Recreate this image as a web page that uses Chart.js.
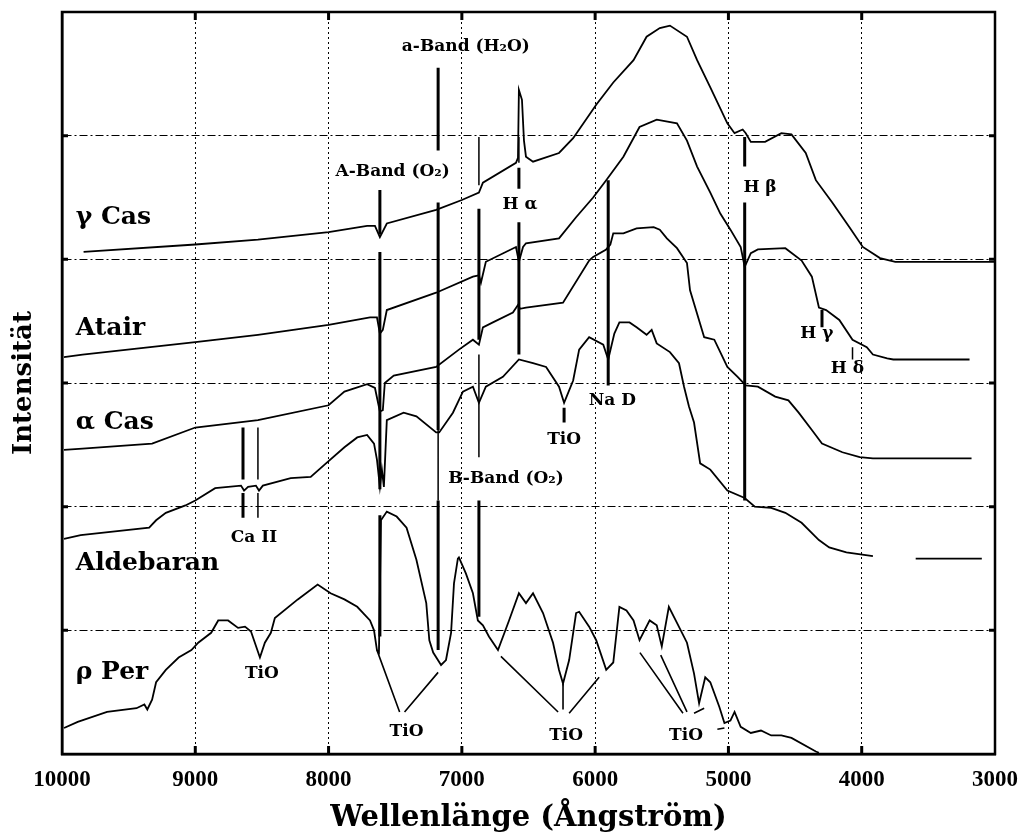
<!DOCTYPE html>
<html><head><meta charset="utf-8">
<script src="https://cdn.jsdelivr.net/npm/chart.js@4.4.0/dist/chart.umd.min.js"></script>
<style>html,body{margin:0;padding:0;background:#fff;} #wrap{width:1034px;height:836px;position:relative;}</style>
</head><body><div id="wrap"><canvas id="c"></canvas></div>
<script>
// ---- x tick values (Angstrom) ----
const xTicks = [10000, 9000, 8000, 7000, 6000, 5000, 4000, 3000];

// ---- spectra: wavelength (Å) and intensity (offset units) ----
const gammaCasWl = [9838, 9000, 8530, 8000, 7711, 7652, 7615, 7563, 7193, 7000, 6872, 6842, 6594, 6579, 6572, 6549, 6534, 6519, 6466, 6271, 6165, 5992, 5864, 5712, 5614, 5515, 5439, 5311, 5235, 5136, 5008, 4954, 4893, 4870, 4832, 4725, 4603, 4527, 4420, 4344, 4221, 4092, 3992, 3863, 3748, 3000];
const gammaCasI  = [4.06, 4.12, 4.16, 4.22, 4.27, 4.27, 4.18, 4.29, 4.40, 4.48, 4.54, 4.62, 4.78, 4.82, 5.37, 5.29, 4.96, 4.83, 4.79, 4.86, 4.98, 5.25, 5.43, 5.61, 5.80, 5.87, 5.89, 5.80, 5.61, 5.39, 5.10, 5.02, 5.05, 5.02, 4.95, 4.95, 5.02, 5.01, 4.86, 4.64, 4.46, 4.26, 4.10, 4.01, 3.98, 3.98];

const atairWl = [9985, 9846, 9000, 8530, 8000, 7689, 7637, 7615, 7593, 7563, 7193, 6917, 6872, 6857, 6820, 6594, 6572, 6541, 6519, 6271, 6143, 6015, 5917, 5788, 5667, 5538, 5386, 5311, 5235, 5136, 5061, 4985, 4908, 4878, 4832, 4779, 4573, 4451, 4374, 4321, 4267, 4168, 4069, 3962, 3916, 3809, 3763, 3191];
const atairI  = [3.21, 3.23, 3.33, 3.39, 3.47, 3.53, 3.53, 3.40, 3.43, 3.59, 3.73, 3.86, 3.87, 3.81, 3.98, 4.10, 3.98, 4.10, 4.13, 4.17, 4.34, 4.50, 4.64, 4.83, 5.07, 5.13, 5.10, 4.96, 4.75, 4.54, 4.37, 4.24, 4.10, 3.94, 4.05, 4.08, 4.09, 3.99, 3.86, 3.61, 3.59, 3.51, 3.35, 3.29, 3.23, 3.20, 3.19, 3.19];

const alphaCasWl = [9985, 9846, 9324, 9000, 8530, 8000, 7881, 7711, 7652, 7615, 7593, 7578, 7511, 7193, 7022, 6917, 6872, 6842, 6767, 6617, 6579, 6564, 6519, 6241, 6045, 6015, 5917, 5886, 5864, 5788, 5689, 5561, 5515, 5462, 5386, 5311, 5288, 5182, 5106, 5008, 4931, 4870, 4779, 4649, 4550, 4473, 4374, 4298, 4145, 4015, 3916, 3176];
const alphaCasI  = [2.46, 2.47, 2.51, 2.64, 2.70, 2.82, 2.93, 2.99, 2.96, 2.77, 2.78, 3.00, 3.06, 3.13, 3.27, 3.35, 3.31, 3.45, 3.49, 3.57, 3.63, 3.60, 3.61, 3.65, 3.99, 4.02, 4.08, 4.12, 4.21, 4.21, 4.25, 4.26, 4.24, 4.17, 4.09, 3.97, 3.75, 3.37, 3.35, 3.13, 3.05, 2.98, 2.97, 2.89, 2.86, 2.76, 2.62, 2.51, 2.44, 2.40, 2.39, 2.39];

const aldebaranWl = [9985, 9860, 9346, 9294, 9221, 9074, 9000, 8851, 8657, 8634, 8604, 8545, 8522, 8493, 8284, 8134, 8030, 7881, 7785, 7711, 7659, 7637, 7615, 7600, 7585, 7563, 7437, 7341, 7193, 7170, 7067, 6992, 6917, 6872, 6820, 6692, 6572, 6466, 6368, 6271, 6233, 6165, 6120, 6045, 5939, 5902, 5856, 5818, 5742, 5689, 5614, 5576, 5538, 5439, 5371, 5333, 5296, 5258, 5212, 5136, 5008, 4878, 4802, 4679, 4573, 4451, 4321, 4244, 4115, 3916, 3750, 3595, 3099];
const aldebaranI  = [1.74, 1.77, 1.83, 1.89, 1.95, 2.01, 2.05, 2.15, 2.17, 2.13, 2.16, 2.17, 2.13, 2.17, 2.23, 2.24, 2.34, 2.48, 2.56, 2.58, 2.51, 2.38, 2.16, 2.30, 2.16, 2.70, 2.76, 2.73, 2.60, 2.60, 2.76, 2.93, 2.97, 2.84, 2.97, 3.05, 3.19, 3.16, 3.13, 2.97, 2.84, 3.02, 3.27, 3.37, 3.31, 3.19, 3.40, 3.49, 3.49, 3.45, 3.39, 3.43, 3.32, 3.25, 3.16, 2.97, 2.81, 2.68, 2.35, 2.30, 2.13, 2.07, 2.00, 1.99, 1.95, 1.87, 1.73, 1.67, 1.63, 1.60, null, 1.58, 1.58];

const rhoPerWl = [9985, 9882, 9662, 9441, 9382, 9360, 9324, 9294, 9221, 9125, 9029, 8978, 8881, 8828, 8754, 8679, 8627, 8582, 8515, 8478, 8433, 8403, 8231, 8082, 7985, 7881, 7785, 7689, 7659, 7637, 7622, 7607, 7563, 7489, 7415, 7341, 7267, 7244, 7215, 7156, 7119, 7081, 7059, 7030, 7022, 6970, 6917, 6880, 6842, 6797, 6729, 6646, 6572, 6519, 6466, 6391, 6316, 6271, 6241, 6195, 6143, 6120, 6045, 5992, 5917, 5864, 5818, 5765, 5712, 5667, 5591, 5538, 5500, 5447, 5386, 5311, 5258, 5220, 5174, 5136, 5068, 5030, 4985, 4954, 4908, 4832, 4756, 4679, 4603, 4527, 4344, 4321];
const rhoPerI  = [0.21, 0.26, 0.34, 0.37, 0.40, 0.36, 0.44, 0.58, 0.68, 0.78, 0.84, 0.90, 0.98, 1.08, 1.08, 1.02, 1.03, 0.99, 0.78, 0.90, 0.98, 1.10, 1.25, 1.37, 1.30, 1.25, 1.19, 1.08, 1.00, 0.84, 0.82, 1.89, 1.96, 1.92, 1.83, 1.57, 1.22, 0.92, 0.82, 0.72, 0.76, 0.98, 1.38, 1.58, 1.59, 1.46, 1.30, 1.08, 1.04, 0.95, 0.84, 1.08, 1.30, 1.22, 1.30, 1.14, 0.90, 0.68, 0.57, 0.76, 1.14, 1.15, 1.03, 0.92, 0.68, 0.74, 1.19, 1.16, 1.08, 0.92, 1.08, 1.04, 0.87, 1.19, 1.06, 0.90, 0.65, 0.41, 0.62, 0.58, 0.38, 0.25, 0.27, 0.34, 0.22, 0.17, 0.19, 0.15, 0.15, 0.13, 0.02, 0.01];

// ---- line identification markers: [wavelength, upper intensity, lower intensity] ----
const heavyMarks = [
  [7178, 5.55, 4.88], [7178, 4.46, 2.62], [7178, 2.05, 0.84],
  [7615, 4.56, 4.20], [7615, 4.06, 2.14], [7615, 1.93, 0.95],
  [6872, 4.41, 3.35], [6872, 2.05, 1.11],
  [6572, 4.74, 4.57], [6572, 4.30, 3.23],
  [5902, 4.64, 2.98],
  [4878, 4.99, 4.75], [4878, 4.46, 2.05],
  [4298, 3.59, 3.45],
  [8642, 2.64, 2.22], [8642, 2.11, 1.91],
  [6233, 2.80, 2.68]
];
const lightMarks = [
  [7178, 2.62, 2.05],
  [6872, 4.99, 4.60], [6872, 3.23, 2.40],
  [6572, 4.99, 4.78],
  [4069, 3.29, 3.19],
  [8530, 2.64, 2.22], [8530, 2.11, 1.91]
];
// ---- TiO leader lines: [wl1, I1, wl2, I2] ----
const tioLeaders = [
  [7637, 0.84, 7467, 0.34], [7430, 0.34, 7178, 0.66],
  [6707, 0.79, 6278, 0.34], [6241, 0.57, 6241, 0.36], [6195, 0.33, 5970, 0.62],
  [5664, 0.82, 5341, 0.33], [5508, 0.80, 5311, 0.34], [5258, 0.33, 5182, 0.37], [5083, 0.20, 5030, 0.21]
];

// ---- text annotations ----
const starNames = ['γ Cas', 'Atair', 'α Cas', 'Aldebaran', 'ρ Per'];
const starNameWl = [9897, 9897, 9897, 9897, 9897];
const starNameI = [4.34, 3.44, 2.68, 1.54, 0.66];

const lineLabels = ['a-Band (H₂O)', 'A-Band (O₂)', 'H α', 'H β', 'Na D', 'TiO', 'B-Band (O₂)', 'Ca II', 'H γ', 'H δ', 'TiO', 'TiO', 'TiO', 'TiO'];
const lineLabelWl = [6970, 7519, 6564, 4763, 5871, 6233, 6669, 8560, 4336, 4107, 8500, 7415, 6218, 5318];
const lineLabelI  = [5.72, 4.71, 4.44, 4.58, 2.86, 2.54, 2.23, 1.75, 3.40, 3.12, 0.65, 0.18, 0.15, 0.15];

// ---- build datasets ----
const pts = (wl, I) => wl.map((w, i) => ({x: w, y: I[i]}));
const markSegs = list => { const o = []; list.forEach(s => { o.push({x: s[0], y: s[1]}, {x: s[0], y: s[2]}, {x: s[0], y: null}); }); return o; };
const leaderSegs = list => { const o = []; list.forEach(s => { o.push({x: s[0], y: s[1]}, {x: s[2], y: s[3]}, {x: s[2], y: null}); }); return o; };

const lineStyle = (w) => ({borderColor: '#000', borderWidth: w, pointRadius: 0, fill: false, tension: 0, spanGaps: false});

const data = {
  datasets: [
    Object.assign({label: 'γ Cas', data: pts(gammaCasWl, gammaCasI)}, lineStyle(1.8)),
    Object.assign({label: 'Atair', data: pts(atairWl, atairI)}, lineStyle(1.8)),
    Object.assign({label: 'α Cas', data: pts(alphaCasWl, alphaCasI)}, lineStyle(1.8)),
    Object.assign({label: 'Aldebaran', data: pts(aldebaranWl, aldebaranI)}, lineStyle(1.8)),
    Object.assign({label: 'ρ Per', data: pts(rhoPerWl, rhoPerI)}, lineStyle(1.8)),
    Object.assign({label: 'heavy', data: markSegs(heavyMarks)}, lineStyle(3)),
    Object.assign({label: 'light', data: markSegs(lightMarks)}, lineStyle(1.5)),
    Object.assign({label: 'tio', data: leaderSegs(tioLeaders)}, lineStyle(1.6))
  ]
};

const framePlugin = {
  id: 'frame',
  afterDraw(chart) {
    const {ctx, chartArea: a, scales: {x, y}} = chart;
    ctx.save();
    ctx.strokeStyle = '#000';
    ctx.lineWidth = 2.5;
    ctx.strokeRect(a.left, a.top, a.right - a.left, a.bottom - a.top);
    ctx.lineWidth = 3;
    ctx.beginPath();
    for (let v = 1; v <= 5; v++) {
      const py = y.getPixelForValue(v);
      ctx.moveTo(a.left, py); ctx.lineTo(a.left + 6, py);
      ctx.moveTo(a.right, py); ctx.lineTo(a.right - 6, py);
    }
    xTicks.slice(1, -1).forEach(v => {
      const px = x.getPixelForValue(v);
      ctx.moveTo(px, a.bottom); ctx.lineTo(px, a.bottom - 8);
      ctx.moveTo(px, a.top); ctx.lineTo(px, a.top + 8);
    });
    ctx.stroke();
    ctx.restore();
  }
};

const textPlugin = {
  id: 'texts',
  afterDatasetsDraw(chart) {
    const {ctx, scales: {x, y}} = chart;
    ctx.save();
    ctx.fillStyle = '#000';
    ctx.textBaseline = 'middle';
    ctx.font = 'bold 25px "DejaVu Serif"';
    ctx.textAlign = 'left';
    starNames.forEach((t, i) => ctx.fillText(t, x.getPixelForValue(starNameWl[i]), y.getPixelForValue(starNameI[i])));
    ctx.font = 'bold 17px "DejaVu Serif"';
    ctx.textAlign = 'center';
    lineLabels.forEach((t, i) => ctx.fillText(t, x.getPixelForValue(lineLabelWl[i]), y.getPixelForValue(lineLabelI[i])));
    ctx.restore();
  }
};

new Chart(document.getElementById('c'), {
  type: 'line',
  data: data,
  plugins: [framePlugin, textPlugin],
  options: {
    responsive: true,
    maintainAspectRatio: false,
    animation: false,
    parsing: true,
    layout: {padding: {top: 12, right: 39, left: 0, bottom: 0}},
    plugins: {legend: {display: false}, tooltip: {enabled: false}},
    scales: {
      x: {
        type: 'linear', reverse: true, min: 3000, max: 10000,
        afterBuildTicks: s => { s.ticks = xTicks.map(v => ({value: v})); },
        ticks: {callback: v => String(v), font: {family: 'Liberation Serif', size: 23, weight: 'bold'}, color: '#000', padding: 12, maxRotation: 0, autoSkip: false},
        grid: {color: '#000', lineWidth: 1, drawTicks: false},
        border: {display: true, color: '#000', width: 2.5, dash: [2, 3]},
        title: {display: true, text: 'Wellenlänge (Ångström)', font: {family: 'DejaVu Serif', size: 29, weight: 'bold'}, color: '#000', padding: {top: 0, bottom: 0}},
        afterFit: s => { s.height = 82; }
      },
      y: {
        min: 0, max: 6,
        ticks: {stepSize: 1, display: false},
        grid: {color: '#000', lineWidth: 1, drawTicks: false},
        border: {display: true, color: '#000', width: 2.5, dash: [8, 3, 2, 3]},
        title: {display: true, text: 'Intensität', font: {family: 'DejaVu Serif', size: 26, weight: 'bold'}, color: '#000', padding: {top: 9, bottom: 0}},
        afterFit: s => { s.width = 62; }
      }
    }
  }
});
</script>
</body></html>
